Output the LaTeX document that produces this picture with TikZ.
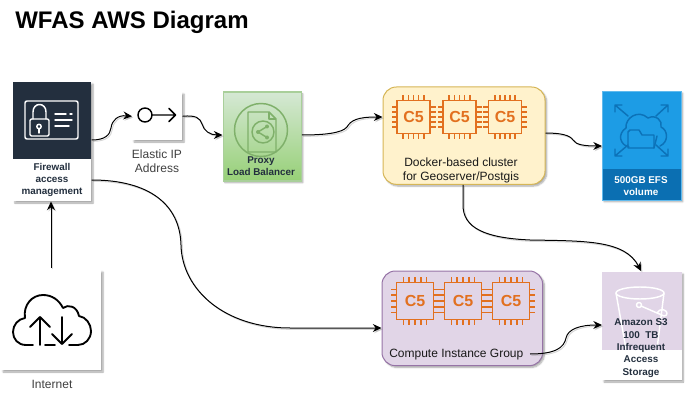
\documentclass[tikz,border=0pt]{standalone}
\usepackage{fontspec}
\setmainfont{Liberation Sans}
\usetikzlibrary{arrows.meta,shadows.blur,calc}
\definecolor{navy}{HTML}{232F3E}
\definecolor{orangec}{HTML}{E2701F}
\definecolor{efsblue}{HTML}{1D9CE5}
\definecolor{efsdark}{HTML}{0B6FB2}
\definecolor{purp}{HTML}{E1D5E7}
\definecolor{txtdark}{HTML}{232F3E}
\definecolor{greyt}{HTML}{3F3F3F}
\definecolor{iconb}{HTML}{0C72B8}
\definecolor{icong}{HTML}{7FB06A}
\definecolor{gtop}{HTML}{D5E8D4}
\definecolor{gbot}{HTML}{97D077}
\definecolor{gline}{HTML}{A9CF9A}
\definecolor{yfill}{HTML}{FFF2CC}
\definecolor{yline}{HTML}{D6B656}
\definecolor{pline}{HTML}{9673A6}
\tikzset{
 softshadow/.style={blur shadow={shadow xshift=1.3pt,shadow yshift=-1.3pt,shadow blur radius=1.2pt,shadow blur steps=6,shadow opacity=35,shadow blur extra rounding=0pt}},
 card/.style={draw=none,fill=white,inner sep=0,softshadow,anchor=north west},
 panel/.style={inner sep=0,anchor=north west},
 cardtext/.style={font=\bfseries\fontsize{7.4}{9.25}\selectfont,text=txtdark,align=center,inner sep=0},
 label/.style={font=\fontsize{9}{10.6}\selectfont,text=greyt,align=center,inner sep=0},
 grouplabel/.style={font=\fontsize{9}{10.6}\selectfont,text=black!90,align=center,inner sep=0},
 link/.style={black,line width=.75pt,-{Stealth[length=6.5pt,width=6pt]},
   preaction={draw=black!45,opacity=.35,line width=.75pt,transform canvas={shift={(1pt,-1pt)}}}},
 icon/.style={line width=1.1pt,line cap=round,line join=round},
}
\newcommand{\chipicon}[3]{% x,y (centre), half size
 \begin{scope}[shift={(#1,#2)},orangec,line width=1.3pt]
  \draw (-#3,-#3) rectangle (#3,#3);
  \foreach \t in {-0.62,-0.31,0,0.31,0.62}{
   \draw (\t*#3,-#3) -- (\t*#3,-#3-5.5);
   \draw (\t*#3,#3) -- (\t*#3,#3+5.5);
   \draw (-#3,\t*#3) -- (-#3-5.5,\t*#3);
   \draw (#3,\t*#3) -- (#3+5.5,\t*#3);
  }
  \node[text=orangec,inner sep=0,font=\bfseries\fontsize{12}{13}\selectfont] at (0,0) {C5};
 \end{scope}}
\begin{document}
\begin{tikzpicture}[x=.75pt,y=-.75pt]
\useasboundingbox (0,0) rectangle (693,403);
\node[anchor=west,inner sep=0,font=\bfseries\fontsize{18}{20}\selectfont] (title) at (15,22) {WFAS AWS Diagram};

% Firewall
\node[card,minimum width=58.5pt,minimum height=89.25pt] (fw) at (13,82) {};
\node[panel,fill=navy,minimum width=58.5pt,minimum height=57.75pt] (fwtop) at (13,82) {};
\node[cardtext] (fwt) at (52,180) {Firewall\\access\\management};
\begin{scope}[white,icon]
 \draw[rounded corners=1.5pt] (25,101) rectangle (78,139);
 \draw[rounded corners=1pt] (30,119) rectangle (49,136);
 \draw (33,119) -- (33,112) .. controls (33,102) and (46,102) .. (46,112) -- (46,119);
 \draw (39,126.5) circle (2.2);
 \draw (39,129) -- (39,133);
 \draw (55,114) -- (66,114) (70,114) -- (72,114) (55,120) -- (72,120) (55,126) -- (69,126);
\end{scope}

% Elastic IP
\node[card,minimum width=37.5pt,minimum height=36pt] (eip) at (132,92) {};
\begin{scope}[black,icon]
 \draw (145,115) circle (7);
 \draw (152,115) -- (175,115) (169,108.5) -- (175.5,115) -- (169,121.5);
\end{scope}
\node[label] (eipt) at (157,161) {Elastic IP\\Address};

% Proxy
\node[panel,draw=gline,line width=1pt,top color=gtop,bottom color=gbot,minimum width=58.5pt,minimum height=66.5pt,softshadow] (proxy) at (222.5,91.5) {};
\begin{scope}[icong,line width=1.1pt,line join=round]
 \draw (261,130) circle (26.5);
 \draw (248,112) -- (269,112) -- (276,119) -- (276,152) -- (248,152) -- cycle;
 \draw (269,112) -- (269,119) -- (276,119);
 \draw (263,132) circle (11);
 \draw (258,132) -- (267,126.5) (258,132) -- (267,137.5);
 \fill (258,132) circle (2) (267,126.5) circle (2) (267,137.5) circle (2);
\end{scope}
\node[cardtext] (proxyt) at (261,166) {Proxy\\Load Balancer};

% Docker cluster
\node[panel,draw=yline,fill=yfill,line width=.75pt,rounded corners=10pt,minimum width=121.5pt,minimum height=73pt,softshadow] (docker) at (382.5,86.5) {};
\chipicon{413.5}{117}{16.5}
\chipicon{459.5}{117}{16.5}
\chipicon{505}{117}{16.5}
\node[grouplabel] (dockert) at (461,170) {Docker-based cluster\\for Geoserver/Postgis};

% EFS
\node[panel,fill=efsblue,draw=efsblue!70!white,line width=.5pt,minimum width=59pt,minimum height=81.5pt,softshadow] (efs) at (602,91) {};
\node[panel,fill=efsdark,minimum width=58.5pt,minimum height=23pt] (efsbot) at (602.3,169) {};
\node[cardtext,text=white] (efst) at (641,186) {500GB EFS\\volume};
\begin{scope}[iconb,icon]
 \draw (615,105) -- (628,116) (615,105) -- (615,112) (615,105) -- (622,105);
 \draw (668,105) -- (656,116) (668,105) -- (668,112) (668,105) -- (661,105);
 \draw (615,156) -- (628,145) (615,156) -- (615,149) (615,156) -- (622,156);
 \draw (668,156) -- (656,145) (668,156) -- (668,149) (668,156) -- (661,156);
 \draw (629,147) .. controls (620,145) and (617,134) .. (626,128) .. controls (625,118) and (638,109) .. (648,118) .. controls (656,114) and (663,121) .. (661,127) .. controls (668,130) and (669,142) .. (660,146);
 \draw (628,132) -- (628,148) -- (654,148) -- (654,135) -- (642,135) -- (639,130) -- (630,130) -- cycle;
 \draw (654,148) -- (657,136);
\end{scope}

% Internet
\node[card,minimum width=75pt,minimum height=75pt] (inet) at (1,270) {};
\begin{scope}[black,icon,line width=1.4pt]
 \draw (33,345) -- (26,345) .. controls (18,345) and (13,339) .. (13,332) .. controls (13,325) and (18,319) .. (25,318) .. controls (23,305) and (32,295) .. (43,295) .. controls (52,295) and (59,300) .. (63,308) .. controls (68,304) and (77,306) .. (79,316) .. controls (86,317) and (91,324) .. (91,331) .. controls (91,339) and (85,345) .. (78,345) -- (69,345);
 \draw (45,345) -- (55,345);
 \draw (40,345) -- (40,317) (30,327) -- (40,317) -- (50,327);
 \draw (62,317) -- (62,344) (52,334) -- (62,344) -- (72,334);
\end{scope}
\node[label] (inett) at (52,384) {Internet};

% Compute
\node[panel,draw=pline,fill=purp,line width=.75pt,rounded corners=10pt,minimum width=120.5pt,minimum height=71pt,softshadow] (compute) at (381.5,270.5) {};
\chipicon{415}{301}{18.5}
\chipicon{463}{301}{18.5}
\chipicon{511}{301}{18.5}
\node[grouplabel,anchor=west] (computet) at (389,355) {Compute Instance Group};

% S3
\node[card,minimum width=59.5pt,minimum height=81pt] (s3) at (602,272) {};
\node[panel,fill=purp,minimum width=59.5pt,minimum height=58pt] (s3top) at (602,272) {};
\begin{scope}[white,icon]
 \draw (640,293) ellipse (24 and 6);
 \draw (616,293) -- (626,349) (664,293) -- (657,349);
 \draw (639,305) circle (2.5);
 \draw (641,306) -- (664,316) .. controls (668,316) and (668,311) .. (664,310) .. controls (660,309) and (658,311) .. (657,313);
\end{scope}
\node[cardtext] (s3t) at (641,348) {Amazon S3\\100\ \ TB\\Infrequent\\Access\\Storage};

% anchors of connectors
\coordinate (fwa) at (fw.east |- 0,140);
\coordinate (fwb) at (fw.east |- 0,180);
\coordinate (eipa) at (eip.west);
\coordinate (eipb) at (eip.east);
\coordinate (cmpa) at (compute.west |- 0,328);
\coordinate (cmpb) at (530,354);
\coordinate (s3a) at (s3.west |- 0,325);
\coordinate (s3b) at (641,271);
\coordinate (dka) at (docker.west |- 0,117);
\coordinate (dkb) at (docker.east |- 0,133);
\coordinate (dkc) at (docker.south -| 463,0);
\coordinate (efsa) at (efs.west |- 0,146);
\coordinate (prxa) at (proxy.west |- 0,135);
\coordinate (prxb) at (proxy.east |- 0,135);

\draw[link] (fwa) .. controls (105,140) and (110,135) .. (111,128) .. controls (112,120) and (118,115) .. (eipa);
\draw[link] (eipb) .. controls (196,115) and (200,118) .. (202,124) .. controls (204,131) and (210,135) .. (prxa);
\draw[link] (prxb) .. controls (325,135) and (342,133) .. (347,127) .. controls (351,120) and (358,117) .. (dka);
\draw[link] (dkb) .. controls (560,133) and (570,135) .. (573,140) .. controls (576,145) and (585,146) .. (efsa);
\draw[link] (dkc) -- (463,205) .. controls (463,228) and (485,238) .. (530,240) .. controls (585,241) and (625,240) .. (s3b);
\draw[link] (fwb) .. controls (150,180) and (180,205) .. (181,245) .. controls (182,290) and (225,328) .. (290,328) -- (cmpa);
\draw[link] (cmpb) .. controls (555,354) and (564,348) .. (566,338) .. controls (568,329) and (580,325) .. (s3a);
\draw[link] (inet.north -| 51,0) ++(0,-2) -- (fw.south -| 51,0);
\end{tikzpicture}
\end{document}
